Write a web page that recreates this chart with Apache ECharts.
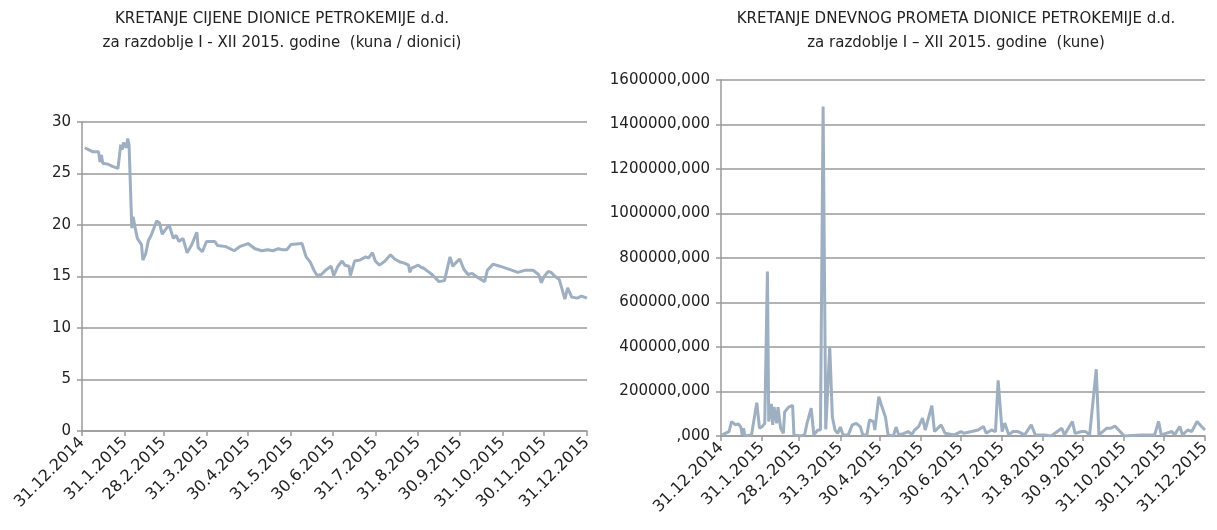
<!DOCTYPE html>
<html>
<head>
<meta charset="utf-8">
<script src="https://cdn.jsdelivr.net/npm/echarts@6/dist/echarts.min.js"></script>
<style>
  html, body { margin: 0; padding: 0; background: #fff; }
  #main { width: 1217px; height: 530px; }
</style>
</head>
<body>
<div id="main"></div>
<script>
// month-end tick labels (same on both charts)
const tickLabels = ['31.12.2014', '31.1.2015', '28.2.2015', '31.3.2015', '30.4.2015', '31.5.2015',
  '30.6.2015', '31.7.2015', '31.8.2015', '30.9.2015', '31.10.2015', '30.11.2015', '31.12.2015'];

// cijena dionice (kuna / dionici)
const priceDates = ['2015-01-02', '2015-01-05', '2015-01-08', '2015-01-09', '2015-01-12', '2015-01-13',
  '2015-01-14', '2015-01-15', '2015-01-19', '2015-01-22', '2015-01-26', '2015-01-27', '2015-01-28',
  '2015-01-29', '2015-01-30', '2015-02-01', '2015-02-02', '2015-02-03', '2015-02-05', '2015-02-06',
  '2015-02-07', '2015-02-09', '2015-02-12', '2015-02-13', '2015-02-15', '2015-02-17', '2015-02-19',
  '2015-02-23', '2015-02-25', '2015-02-27', '2015-03-01', '2015-03-04', '2015-03-07', '2015-03-09',
  '2015-03-11', '2015-03-14', '2015-03-17', '2015-03-20', '2015-03-24', '2015-03-25', '2015-03-28',
  '2015-03-31', '2015-04-06', '2015-04-08', '2015-04-14', '2015-04-20', '2015-04-24', '2015-04-30',
  '2015-05-05', '2015-05-10', '2015-05-14', '2015-05-18', '2015-05-22', '2015-05-25', '2015-05-28',
  '2015-05-31', '2015-06-08', '2015-06-11', '2015-06-14', '2015-06-17', '2015-06-19', '2015-06-22',
  '2015-06-25', '2015-06-29', '2015-07-01', '2015-07-04', '2015-07-07', '2015-07-09', '2015-07-12',
  '2015-07-13', '2015-07-16', '2015-07-20', '2015-07-24', '2015-07-26', '2015-07-29', '2015-07-31',
  '2015-08-03', '2015-08-07', '2015-08-11', '2015-08-14', '2015-08-18', '2015-08-21', '2015-08-24',
  '2015-08-25', '2015-08-26', '2015-08-31', '2015-09-02', '2015-09-04', '2015-09-07', '2015-09-10',
  '2015-09-15', '2015-09-19', '2015-09-23', '2015-09-25', '2015-09-27', '2015-09-30', '2015-10-03',
  '2015-10-06', '2015-10-09', '2015-10-13', '2015-10-18', '2015-10-20', '2015-10-24', '2015-10-29',
  '2015-11-07', '2015-11-11', '2015-11-16', '2015-11-22', '2015-11-26', '2015-11-28', '2015-11-30',
  '2015-12-03', '2015-12-05', '2015-12-08', '2015-12-11', '2015-12-15', '2015-12-17', '2015-12-20',
  '2015-12-24', '2015-12-27', '2015-12-31'];
const priceValues = [27.5, 27.3, 27.1, 27.0, 27.1, 26.1,
  26.8, 26.0, 25.9, 25.7, 25.5, 25.6, 27.8,
  27.3, 28.0, 27.5, 28.4, 27.8, 19.7, 20.8,
  20.0, 18.7, 18.1, 16.6, 17.2, 18.5, 19.0,
  20.4, 20.2, 19.1, 19.5, 20.0, 18.7, 19.0,
  18.4, 18.7, 17.3, 18.0, 19.3, 17.8, 17.4,
  18.4, 18.4, 18.0, 17.9, 17.5, 17.9, 18.2,
  17.7, 17.5, 17.6, 17.5, 17.7, 17.6, 17.6,
  18.1, 18.2, 16.9, 16.4, 15.5, 15.1, 15.2,
  15.6, 16.0, 15.1, 16.0, 16.5, 16.1, 16.0,
  15.1, 16.5, 16.6, 16.9, 16.8, 17.3, 16.5,
  16.1, 16.5, 17.1, 16.7, 16.4, 16.3, 16.1,
  15.4, 15.8, 16.1, 15.9, 15.8, 15.5, 15.2,
  14.5, 14.6, 16.9, 16.0, 16.3, 16.7, 15.7,
  15.2, 15.3, 14.9, 14.5, 15.6, 16.2, 16.0,
  15.6, 15.4, 15.6, 15.6, 15.2, 14.4, 15.0,
  15.5, 15.4, 15.0, 14.7, 12.8, 13.9, 13.0,
  12.9, 13.1, 12.9];

// dnevni promet (kune)
const turnoverDates = ['2015-01-01', '2015-01-06', '2015-01-08', '2015-01-11', '2015-01-13', '2015-01-15',
  '2015-01-16', '2015-01-17', '2015-01-18', '2015-01-23', '2015-01-27', '2015-01-29', '2015-01-31',
  '2015-02-02', '2015-02-04', '2015-02-05', '2015-02-07', '2015-02-08', '2015-02-09', '2015-02-11',
  '2015-02-12', '2015-02-14', '2015-02-16', '2015-02-17', '2015-02-20', '2015-02-23', '2015-02-24',
  '2015-03-01', '2015-03-04', '2015-03-06', '2015-03-09', '2015-03-11', '2015-03-14', '2015-03-16',
  '2015-03-18', '2015-03-20', '2015-03-23', '2015-03-25', '2015-03-27', '2015-03-29', '2015-03-31',
  '2015-04-02', '2015-04-06', '2015-04-09', '2015-04-12', '2015-04-15', '2015-04-17', '2015-04-20',
  '2015-04-22', '2015-04-25', '2015-04-26', '2015-04-29', '2015-05-01', '2015-05-04', '2015-05-05',
  '2015-05-06', '2015-05-10', '2015-05-12', '2015-05-14', '2015-05-18', '2015-05-21', '2015-05-24',
  '2015-05-26', '2015-05-29', '2015-06-01', '2015-06-03', '2015-06-08', '2015-06-10', '2015-06-15',
  '2015-06-18', '2015-06-25', '2015-06-30', '2015-07-02', '2015-07-08', '2015-07-13', '2015-07-17',
  '2015-07-19', '2015-07-23', '2015-07-26', '2015-07-28', '2015-07-31', '2015-08-02', '2015-08-05',
  '2015-08-08', '2015-08-12', '2015-08-17', '2015-08-22', '2015-08-25', '2015-09-01', '2015-09-06',
  '2015-09-14', '2015-09-16', '2015-09-22', '2015-09-24', '2015-09-29', '2015-10-02', '2015-10-05',
  '2015-10-10', '2015-10-12', '2015-10-18', '2015-10-21', '2015-10-24', '2015-10-28', '2015-10-31',
  '2015-11-13', '2015-11-17', '2015-11-23', '2015-11-26', '2015-11-28', '2015-12-06', '2015-12-08',
  '2015-12-12', '2015-12-14', '2015-12-18', '2015-12-21', '2015-12-25', '2015-12-28', '2015-12-31'];
const turnoverValues = [5000, 20000, 65000, 50000, 55000, 40000,
  5000, 35000, 0, 5000, 150000, 35000, 42000,
  57000, 739000, 65000, 145000, 50000, 130000, 57000,
  130000, 35000, 12000, 108000, 130000, 138000, 5000,
  0, 5000, 60000, 125000, 5000, 27000, 27000,
  1481000, 30000, 402000, 85000, 27000, 12000, 40000,
  5000, 5000, 50000, 57000, 42000, 5000, 5000,
  72000, 65000, 27000, 177000, 138000, 85000, 85000,
  5000, 0, 40000, 5000, 12000, 20000, 8000,
  27000, 42000, 80000, 27000, 136000, 20000, 50000,
  12000, 5000, 20000, 12000, 20000, 27000, 43000,
  12000, 27000, 20000, 250000, 20000, 58000, 5000,
  20000, 20000, 5000, 50000, 5000, 5000, 0,
  35000, 5000, 65000, 12000, 20000, 20000, 5000,
  300000, 5000, 35000, 35000, 45000, 20000, 0,
  5000, 5000, 5000, 65000, 5000, 20000, 5000,
  43000, 5000, 27000, 20000, 65000, 45000, 27000];

const LINE = '#9dafc0';
const GRID = '#9a9a9a';
const FONT = 'DejaVu Sans';
const TXT = '#222';

// dates -> local timestamps (value axis works in ms)
function parseLabel(s) {
  const p = s.split('.');
  return new Date(+p[2], +p[1] - 1, +p[0]).getTime();
}
function parseIso(s) {
  const p = s.split('-');
  return new Date(+p[0], +p[1] - 1, +p[2]).getTime();
}
const tickValues = tickLabels.map(parseLabel);
const xMin = tickValues[0];
const xMax = tickValues[tickValues.length - 1];

function fmtDate(v) {
  const i = tickValues.indexOf(v);
  return i >= 0 ? tickLabels[i] : '';
}

function makeX(gridIndex) {
  return {
    type: 'value',
    gridIndex: gridIndex,
    min: xMin,
    max: xMax,
    axisLine: { lineStyle: { color: GRID, width: 1.5 } },
    axisTick: { show: true, length: 5, customValues: tickValues, lineStyle: { color: GRID, width: 1.5 } },
    axisLabel: {
      customValues: tickValues,
      rotate: 45,
      margin: 9,
      color: TXT,
      fontFamily: FONT,
      fontSize: 16,
      formatter: fmtDate
    },
    splitLine: { show: false }
  };
}

function makeY(gridIndex, max, interval, fmt) {
  return {
    type: 'value', gridIndex: gridIndex, min: 0, max: max, interval: interval,
    axisLine: { show: true, lineStyle: { color: GRID, width: 1.5 } },
    axisTick: { show: true, length: 5, lineStyle: { color: GRID, width: 1.5 } },
    axisLabel: { color: TXT, fontFamily: FONT, fontSize: 15, margin: 11, formatter: fmt },
    splitLine: { lineStyle: { color: GRID, width: 1.5 } }
  };
}

const titleStyle = { fontFamily: FONT, fontSize: 15, fontWeight: 'normal', color: TXT, lineHeight: 24, align: 'center' };

const chart = echarts.init(document.getElementById('main'));

chart.setOption({
  animation: false,
  title: [
    {
      text: 'KRETANJE CIJENE DIONICE PETROKEMIJE d.d.\nza razdoblje I - XII 2015. godine  (kuna / dionici)',
      left: 282, top: 7, padding: 0, textAlign: 'center',
      textStyle: titleStyle
    },
    {
      text: 'KRETANJE DNEVNOG PROMETA DIONICE PETROKEMIJE d.d.\nza razdoblje I \u2013 XII 2015. godine  (kune)',
      left: 956, top: 7, padding: 0, textAlign: 'center',
      textStyle: titleStyle
    }
  ],
  grid: [
    { left: 82, right: 630, top: 122, bottom: 99 },
    { left: 721, right: 12, top: 80, bottom: 94 }
  ],
  xAxis: [makeX(0), makeX(1)],
  yAxis: [
    makeY(0, 30, 5, null),
    makeY(1, 1600000, 200000, v => (v === 0 ? '' : v) + ',000')
  ],
  series: [
    {
      type: 'line', xAxisIndex: 0, yAxisIndex: 0,
      data: priceDates.map((d, i) => [parseIso(d), priceValues[i]]),
      showSymbol: false,
      lineStyle: { color: LINE, width: 3 }
    },
    {
      type: 'line', xAxisIndex: 1, yAxisIndex: 1,
      data: turnoverDates.map((d, i) => [parseIso(d), turnoverValues[i]]),
      showSymbol: false,
      lineStyle: { color: LINE, width: 3 }
    }
  ]
});
</script>
</body>
</html>
